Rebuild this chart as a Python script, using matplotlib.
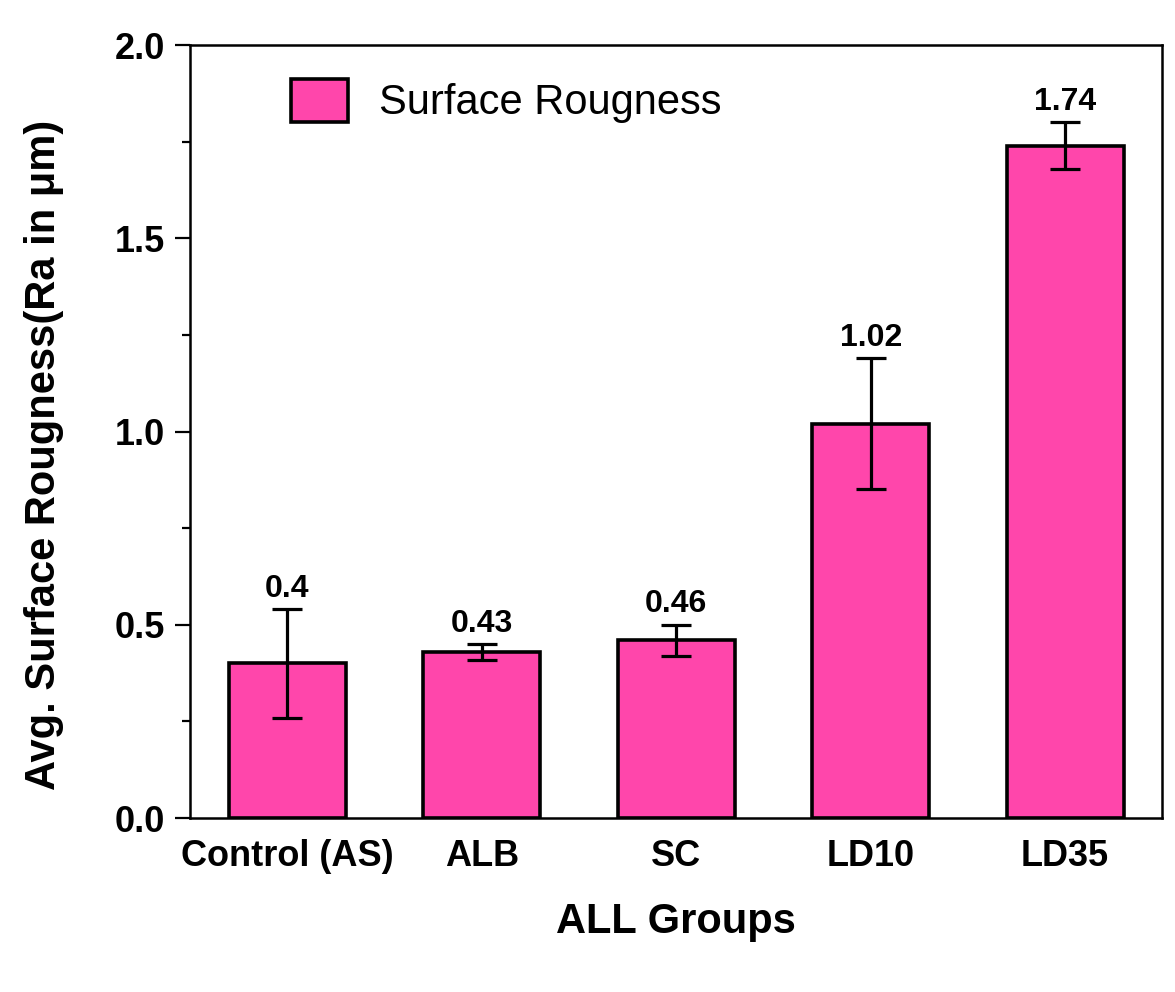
import numpy as np
import matplotlib
matplotlib.use("Agg")
import matplotlib.pyplot as plt
from matplotlib.ticker import MultipleLocator

plt.rcParams['font.family'] = ['Liberation Sans', 'DejaVu Sans']

# surface roughness per group (Ra, um) with std dev
groups = ['Control (AS)', 'ALB', 'SC', 'LD10', 'LD35']
ra_mean = [0.40, 0.43, 0.46, 1.02, 1.74]
ra_err = [0.14, 0.02, 0.04, 0.17, 0.06]
value_labels = ['0.4', '0.43', '0.46', '1.02', '1.74']

bar_color = '#FF46AB'

fig = plt.figure(figsize=(11.75, 9.92), dpi=100)
ax = fig.add_axes([0.1617, 0.1754, 0.8276, 0.7792])

x = np.arange(len(groups))
ax.bar(x, ra_mean, width=0.6, color=bar_color, edgecolor='black',
       linewidth=2.6, label='Surface Rougness', zorder=2)
ax.errorbar(x, ra_mean, yerr=ra_err, fmt='none', ecolor='black',
            elinewidth=2.3, capsize=11, capthick=2.3, zorder=3)

for xi, m, e, lab in zip(x, ra_mean, ra_err, value_labels):
    ax.annotate(lab, (xi, m + e), xytext=(0, 4), textcoords='offset points',
                ha='center', va='bottom', fontsize=23, fontweight='bold')

ax.set_xlim(-0.5, 4.5)
ax.set_ylim(0, 2.0)
ax.set_xticks(x)
ax.set_xticklabels(groups)
ax.yaxis.set_major_locator(MultipleLocator(0.5))
ax.yaxis.set_minor_locator(MultipleLocator(0.25))
ax.yaxis.set_major_formatter(matplotlib.ticker.FormatStrFormatter('%.1f'))

ax.tick_params(axis='y', which='major', direction='out', length=11, width=1.6,
               labelsize=26, pad=7)
ax.tick_params(axis='y', which='minor', direction='out', length=5.5, width=1.6)
ax.tick_params(axis='x', which='both', length=0, labelsize=26, pad=15)
for lbl in ax.get_xticklabels() + ax.get_yticklabels():
    lbl.set_fontweight('bold')

for sp in ax.spines.values():
    sp.set_linewidth(1.8)

ax.set_xlabel('ALL Groups', fontsize=30, fontweight='bold', labelpad=20)
ax.set_ylabel('Avg. Surface Rougness(Ra in \u03bcm)', fontsize=30, fontweight='bold')
ax.yaxis.set_label_coords(-0.13, 0.47)

leg = ax.legend(loc='upper left', bbox_to_anchor=(0.104, 0.956), frameon=False,
                fontsize=30, handlelength=1.37, handleheight=1.2,
                handletextpad=0.75, borderaxespad=0, borderpad=0)

fig.savefig('out.png', dpi=100)
